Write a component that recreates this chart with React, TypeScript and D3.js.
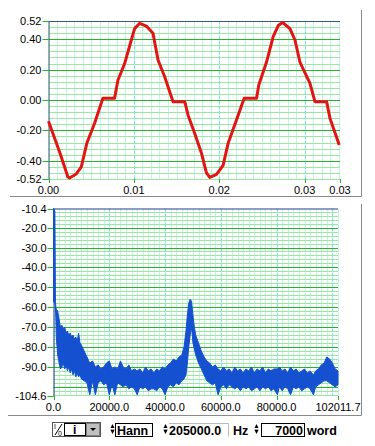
import * as d3 from 'd3';
import { useRef, useEffect } from 'react';

// --- time signal (s, value) ---
const waveT = [0, 0.00129, 0.00188, 0.00226, 0.00246, 0.00325, 0.00384, 0.00449, 0.0054, 0.00637, 0.00774,
  0.00813, 0.00892, 0.0097, 0.01009, 0.01068, 0.01146, 0.01224, 0.01283, 0.01361, 0.01459, 0.01596,
  0.01635, 0.01713, 0.01792, 0.0185, 0.01889, 0.01968, 0.02045, 0.02104, 0.02203, 0.02292, 0.02437,
  0.02464, 0.02554, 0.02632, 0.02691, 0.02742, 0.02828, 0.02887, 0.02945, 0.03063, 0.03121, 0.03258,
  0.03297, 0.03406];
const waveV = [-0.14, -0.34, -0.44, -0.505, -0.513, -0.487, -0.44, -0.285, -0.153, 0.011, 0.011,
  0.13, 0.24, 0.395, 0.47, 0.505, 0.487, 0.44, 0.263, 0.153, -0.011, -0.011,
  -0.1, -0.22, -0.35, -0.48, -0.51, -0.49, -0.43, -0.285, -0.13, 0.011, 0.011,
  0.1, 0.25, 0.417, 0.49, 0.51, 0.47, 0.395, 0.25, 0.11, -0.011, -0.011,
  -0.12, -0.296];

// --- spectrum band (Hz, upper dB, lower dB) ---
const specF = [0, 500, 700, 850, 1000, 1500, 2000, 2500, 3000, 3500, 4000, 4500, 5000, 5500, 6000, 6500,
  7000, 7500, 8000, 8500, 9000, 9500, 10000, 11000, 12000, 13000, 14000, 15000, 16000, 17000, 18000,
  19000, 20000, 21000, 22000, 23000, 24000, 25000, 26000, 27000, 28000, 29000, 30000, 31000, 32000,
  33000, 34000, 35000, 36000, 37000, 38000, 39000, 40000, 41000, 42000, 43000, 44000, 45000, 46000,
  46800, 47500, 48000, 48500, 49000, 49500, 50000, 50500, 51000, 52000, 53000, 54000, 55000, 56000,
  57000, 58000, 59000, 60000, 61000, 62000, 63000, 64000, 65000, 66000, 67000, 68000, 69000, 70000,
  71000, 72000, 73000, 74000, 75000, 76000, 77000, 78000, 79000, 80300, 81000, 82000, 83000, 84000,
  85000, 86000, 87000, 88000, 89000, 90000, 91000, 92000, 93200, 94000, 95000, 96000, 97000, 98000,
  99000, 100000, 101000, 102011.7];
const specHi = [-10.4, -12, -57, -60, -61, -62, -66, -70, -69, -71, -70, -73, -72, -74, -73, -75,
  -74, -76, -75, -77, -73, -78, -79, -82, -85, -88, -87, -90, -89, -91, -90,
  -88, -87, -91, -90, -91, -87, -90, -91, -89, -92, -91, -92, -91, -93,
  -90, -92, -91, -93, -91, -92, -90, -91, -89, -88, -86, -87, -85, -84,
  -80, -72, -64, -58, -56, -57, -64, -70, -74, -78, -82, -85, -87, -88,
  -90, -89, -91, -92, -90, -92, -91, -93, -90, -92, -91, -93, -91, -92,
  -90, -93, -91, -92, -90, -93, -91, -92, -91, -91, -90, -92, -91, -93,
  -90, -92, -91, -93, -92, -91, -93, -92, -94, -92, -91, -89, -88, -85,
  -86, -88, -91, -92];
const specLo = [-57, -58, -60, -66, -75, -84, -88, -91, -90, -88, -91, -89, -92, -90, -93, -91,
  -94, -92, -95, -93, -95, -94, -96, -97, -98, -104, -97, -104, -98, -97, -99,
  -98, -104, -99, -104, -98, -99, -100, -99, -101, -100, -101, -104, -100, -101,
  -100, -102, -101, -101, -102, -100, -101, -104, -100, -99, -100, -98, -99, -97,
  -96, -94, -88, -80, -74, -70, -78, -81, -84, -88, -91, -94, -97, -98,
  -99, -98, -104, -100, -99, -101, -99, -100, -101, -100, -102, -100, -101, -100,
  -102, -101, -100, -102, -100, -101, -100, -102, -101, -104, -100, -102, -100, -101,
  -104, -100, -101, -100, -102, -101, -100, -101, -104, -100, -99, -98, -97, -97,
  -98, -99, -100, -99];

const waveYTicks = [0.52, 0.4, 0.2, 0, -0.2, -0.4, -0.52];
const waveXTicks = [0, 0.01, 0.02, 0.03, 0.034146];
const specYTicks = [-10.4, -20, -30, -40, -50, -60, -70, -80, -90, -104.6];
const specXTicks = [0, 20000, 40000, 60000, 80000, 102011.7];

const FONT = "'Liberation Sans', Arial, sans-serif";

export default function App() {
  const ref = useRef<SVGSVGElement>(null);

  useEffect(() => {
    const svg = d3.select(ref.current);
    svg.selectAll('*').remove();

    function panel(x: any, y: any, xMinor: number[], xMajor: number[], yMinor: number[], yMajor: number[],
      yTicks: number[], yFmt: (v: number) => string, xTicks: number[], xFmt: (v: number) => string, border: string) {
      const g = svg.append('g');
      const [x0, x1] = x.range();
      const [y0, y1] = y.range();
      g.append('rect').attr('x', x0).attr('y', y1).attr('width', x1 - x0).attr('height', y0 - y1).attr('fill', '#fff');
      g.selectAll('.vmin').data(xMinor).join('line')
        .attr('x1', d => Math.round(x(d)) + 0.5).attr('x2', d => Math.round(x(d)) + 0.5)
        .attr('y1', y1).attr('y2', y0).attr('stroke', '#c4f2f2');
      g.selectAll('.hmin').data(yMinor).join('line')
        .attr('y1', d => Math.round(y(d)) + 0.5).attr('y2', d => Math.round(y(d)) + 0.5)
        .attr('x1', x0).attr('x2', x1).attr('stroke', '#98ec98');
      g.selectAll('.vmaj').data(xMajor).join('line')
        .attr('x1', d => Math.round(x(d)) + 0.5).attr('x2', d => Math.round(x(d)) + 0.5)
        .attr('y1', y1).attr('y2', y0).attr('stroke', '#78e4e4').attr('stroke-dasharray', '3,2');
      g.selectAll('.hmaj').data(yMajor).join('line')
        .attr('y1', d => Math.round(y(d)) + 0.5).attr('y2', d => Math.round(y(d)) + 0.5)
        .attr('x1', x0).attr('x2', x1).attr('stroke', '#22b822');
      // borders
      g.append('line').attr('x1', x0).attr('x2', x1).attr('y1', y1 + 0.5).attr('y2', y1 + 0.5).attr('stroke', border);
      g.append('line').attr('x1', x0 + 0.5).attr('x2', x0 + 0.5).attr('y1', y1).attr('y2', y0 + 1).attr('stroke', border);
      // y ticks + labels
      g.selectAll('.yt').data(yTicks).join('line')
        .attr('x1', x0 - 6).attr('x2', x0).attr('y1', d => Math.round(y(d)) + 0.5).attr('y2', d => Math.round(y(d)) + 0.5)
        .attr('stroke', '#22b822');
      g.selectAll('.yl').data(yTicks).join('text')
        .attr('x', x0 - 7).attr('y', d => y(d) + 4).attr('text-anchor', 'end')
        .attr('font-family', FONT).attr('font-size', 11).text(yFmt);
      g.selectAll('.xt').data(xTicks).join('line')
        .attr('x1', d => Math.round(x(d)) + 0.5).attr('x2', d => Math.round(x(d)) + 0.5)
        .attr('y1', y0).attr('y2', y0 + 4).attr('stroke', '#22b822');
      g.selectAll('.xl').data(xTicks).join('text')
        .attr('x', d => x(d)).attr('y', y0 + 15).attr('text-anchor', 'middle')
        .attr('font-family', FONT).attr('font-size', 11).text(xFmt);
      return g;
    }

    // --- upper panel: time signal ---
    const xw = d3.scaleLinear([0, 0.034146], [48.5, 340]);
    const yw = d3.scaleLinear([-0.52, 0.52], [179, 21]);
    const gw = panel(xw, yw,
      d3.range(0, 0.0342, 0.001), [0.01, 0.02, 0.03],
      d3.range(-0.52, 0.5201, 0.04), [-0.4, -0.2, 0, 0.2, 0.4],
      waveYTicks, v => v.toFixed(2), waveXTicks, v => v.toFixed(2), '#3a5a70');
    const line = d3.line<number>().x((_, i) => xw(waveT[i])).y(d => yw(d));
    gw.append('path').attr('d', line(waveV)).attr('fill', 'none')
      .attr('stroke', '#e41414').attr('stroke-width', 3).attr('stroke-linejoin', 'round');

    // --- lower panel: spectrum ---
    const xs = d3.scaleLinear([0, 102011.7], [53.5, 338]);
    const ys = d3.scaleLinear([-104.6, -10.4], [396, 208.5]);
    const gs = panel(xs, ys,
      d3.range(0, 102012, 2000), [20000, 40000, 60000, 80000, 100000],
      d3.range(-104, -11, 2), [-100, -90, -80, -70, -60, -50, -40, -30, -20],
      specYTicks, v => v.toFixed(1), specXTicks, v => v.toFixed(1), '#1c3c8c');
    const area = d3.area<number>().x((_, i) => xs(specF[i])).y0((_, i) => ys(specLo[i])).y1(d => ys(d));
    gs.append('path').attr('d', area(specHi)).attr('fill', '#1450d0')
      .attr('stroke', '#1450d0').attr('stroke-width', 1).attr('stroke-linejoin', 'bevel');

    // --- frames ---
    const fr = svg.append('g').attr('stroke', '#8a8a8a').attr('fill', 'none');
    fr.append('path').attr('d', 'M10,196.5H361.5V10');
    fr.append('path').attr('d', 'M8,415.5H361.5V204');

    // --- control bar ---
    const cb = svg.append('g').attr('font-family', FONT);
    cb.append('rect').attr('x', 52.5).attr('y', 422.5).attr('width', 48).attr('height', 14)
      .attr('fill', '#fff').attr('stroke', '#555');
    cb.append('text').attr('x', 54).attr('y', 429).attr('font-size', 7).text('I');
    cb.append('line').attr('x1', 62).attr('y1', 424).attr('x2', 55).attr('y2', 435).attr('stroke', '#000');
    cb.append('text').attr('x', 58).attr('y', 436).attr('font-size', 7).text('0');
    cb.append('rect').attr('x', 64.5).attr('y', 423.5).attr('width', 21).attr('height', 12)
      .attr('fill', '#fff').attr('stroke', '#000');
    cb.append('text').attr('x', 73).attr('y', 433.5).attr('font-size', 12).attr('font-weight', 'bold').text('i');
    cb.append('rect').attr('x', 86.5).attr('y', 423.5).attr('width', 13).attr('height', 12)
      .attr('fill', '#c0c0c0').attr('stroke', '#808080');
    cb.append('path').attr('d', 'M90,428h6l-3,3z').attr('fill', '#000');

    function spinner(x: number) {
      cb.append('path').attr('d', `M${x},428h4l-2,-4z`).attr('fill', '#000');
      cb.append('path').attr('d', `M${x},430h4l-2,4z`).attr('fill', '#000');
      cb.append('line').attr('x1', x).attr('x2', x + 4).attr('y1', 429.5).attr('y2', 429.5).attr('stroke', '#999');
    }
    spinner(110.5);
    cb.append('rect').attr('x', 115.5).attr('y', 423.5).attr('width', 37).attr('height', 13)
      .attr('fill', '#fff').attr('stroke', '#000');
    cb.append('text').attr('x', 117).attr('y', 434.5).attr('font-size', 12.5).attr('font-weight', 'bold').text('Hann');
    spinner(163.5);
    cb.append('path').attr('d', 'M169,423.5H228.5V436.5').attr('fill', 'none').attr('stroke', '#bbb');
    cb.append('text').attr('x', 169).attr('y', 434.5).attr('font-size', 12.5).attr('font-weight', 'bold').text('205000.0');
    cb.append('text').attr('x', 233).attr('y', 435).attr('font-size', 12.5).attr('font-weight', 'bold').text('Hz');
    spinner(254.5);
    cb.append('rect').attr('x', 261.5).attr('y', 423.5).attr('width', 43).attr('height', 13)
      .attr('fill', '#fff').attr('stroke', '#000');
    cb.append('text').attr('x', 303).attr('y', 434.5).attr('text-anchor', 'end').attr('font-size', 12.5)
      .attr('font-weight', 'bold').text('7000');
    cb.append('text').attr('x', 307).attr('y', 434.5).attr('font-size', 12.5).attr('font-weight', 'bold').text('word');
  }, []);

  return (
    <div style={{ position: 'absolute', left: 0, top: 0, background: '#fff' }}>
      <svg ref={ref} width={375} height={446} style={{ display: 'block' }}></svg>
    </div>
  );
}
